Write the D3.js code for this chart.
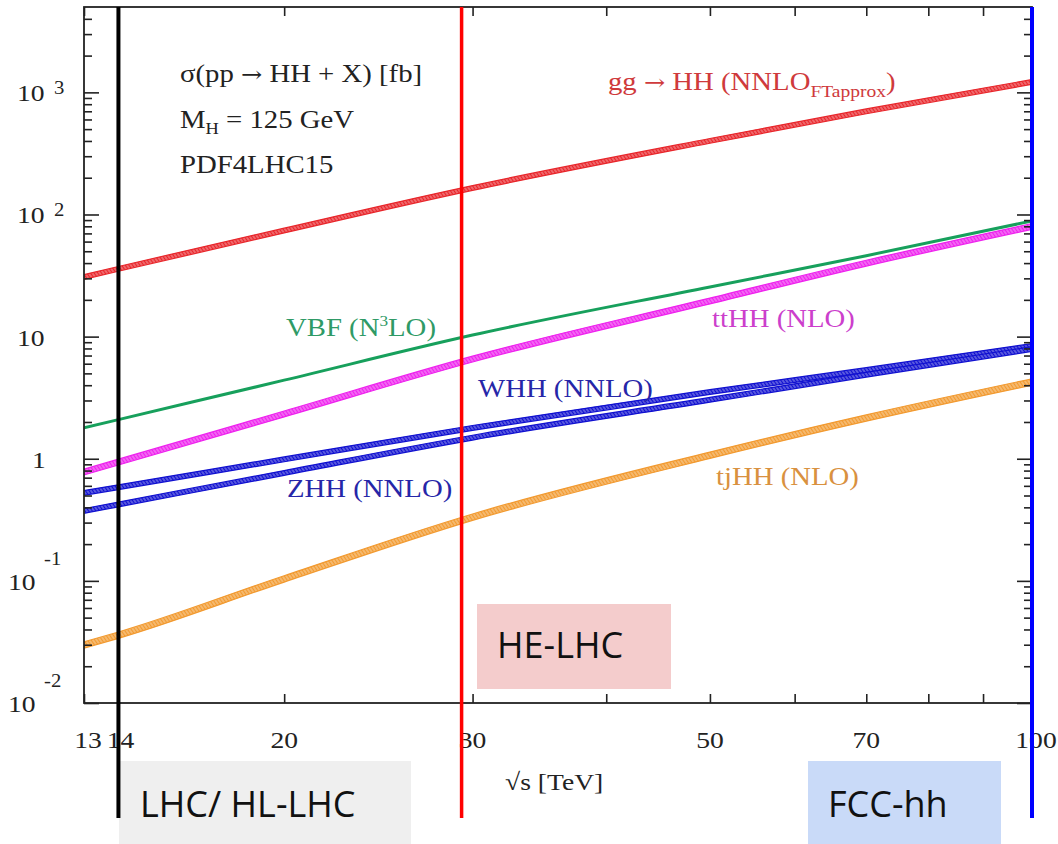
<!DOCTYPE html>
<html>
<head>
<meta charset="utf-8">
<script src="https://cdn.jsdelivr.net/npm/d3@7"></script>
<style>
  html, body { margin: 0; padding: 0; background: #fff; }
  svg { display: block; }
</style>
</head>
<body>
<svg id="chart" width="1058" height="844"></svg>
<script>
// Centre-of-mass energies (TeV) at which the cross sections are tabulated
const energies = [13, 14, 20, 30, 50, 70, 100];

// σ(pp → HH + X) in fb for each production mode
const xsGGF  = [30.8, 35.9, 74, 165, 401, 700, 1219];
const xsVBF  = [1.79, 2.09, 4.4, 10.3, 25.5, 46, 88.5];
const xsTTHH = [0.78, 0.94, 2.33, 6.56, 19.6, 40, 80];
const xsWHH  = [0.525, 0.585, 0.99, 1.79, 3.52, 5.33, 8.4];
const xsZHH  = [0.374, 0.423, 0.766, 1.49, 3.04, 4.88, 7.93];
const xsTJHH = [0.0299, 0.036, 0.104, 0.333, 1.07, 2.16, 4.26];

// Relative half-width of each theory-uncertainty band
const bandGGF = 0.045, bandVBF = 0.012, bandTTHH = 0.055,
      bandWHH = 0.045, bandZHH = 0.045, bandTJHH = 0.06;

// Axis ticks
const xTickValues = [13, 14, 20, 30, 50, 70, 100];
const xTickLabels = ["13", "14", "20", "30", "50", "70", "100"];
const xMinorValues = [40, 60, 80, 90];
const yTickValues = [0.01, 0.1, 1, 10, 100, 1000];
const yTickBase   = ["10", "10", "1", "10", "10", "10"];
const yTickExp    = ["-2", "-1", "", "", "2", "3"];

// Collider energies marked on the plot
const colliderNames  = ["LHC/ HL-LHC", "HE-LHC", "FCC-hh"];
const colliderEnergy = [14, 29.3, 100];

// ---------------------------------------------------------------
const svg = d3.select("#chart");
const L = 84, R = 1032, T = 7, B = 703;
const x = d3.scaleLog().domain([13, 100]).range([L, R]);
const y = d3.scaleLog().domain([0.01, 5000]).range([B, T]);
const SERIF = "'Liberation Serif', 'Times New Roman', serif";
const SANS = "'Open Sans', 'Noto Sans', sans-serif";
const SX = 1.15;   // horizontal stretch of the serif lettering

svg.append("rect").attr("width", 1058).attr("height", 844).attr("fill", "#fff");

const defs = svg.append("defs");
defs.append("clipPath").attr("id", "plotClip")
  .append("rect").attr("x", L).attr("y", T).attr("width", R - L).attr("height", B - T);

// series definitions (built from the named arrays above)
const series = [
  { id: "ggf",  vals: xsGGF,  band: bandGGF,  color: "#e8262b", hatch: true },
  { id: "vbf",  vals: xsVBF,  band: bandVBF,  color: "#17a05c", hatch: false },
  { id: "tthh", vals: xsTTHH, band: bandTTHH, color: "#ee22ee", hatch: true },
  { id: "whh",  vals: xsWHH,  band: bandWHH,  color: "#1010d0", hatch: true },
  { id: "zhh",  vals: xsZHH,  band: bandZHH,  color: "#1010d0", hatch: true },
  { id: "tjhh", vals: xsTJHH, band: bandTJHH, color: "#f29a30", hatch: true }
];

series.forEach(s => {
  const tint = d3.interpolateRgb(s.color, "#ffffff")(0.55);
  const p = defs.append("pattern")
    .attr("id", "hatch-" + s.id)
    .attr("patternUnits", "userSpaceOnUse")
    .attr("width", 3).attr("height", 3)
    .attr("patternTransform", "rotate(-35)");
  p.append("rect").attr("width", 3).attr("height", 3).attr("fill", tint);
  p.append("line").attr("x1", 1.5).attr("y1", 0).attr("x2", 1.5).attr("y2", 3)
    .attr("stroke", s.color).attr("stroke-width", 1.9);
});

// ---------------- curves ----------------
const gCurves = svg.append("g").attr("clip-path", "url(#plotClip)");
series.forEach(s => {
  const pts = energies.map((e, i) => ({ e: e, v: s.vals[i] }));
  const lo = d => y(d.v * (1 - s.band));
  const hi = d => y(d.v * (1 + s.band));
  if (s.hatch) {
    gCurves.append("path").datum(pts)
      .attr("d", d3.area().x(d => x(d.e)).y0(lo).y1(hi).curve(d3.curveMonotoneX))
      .attr("fill", "url(#hatch-" + s.id + ")");
    [lo, hi].forEach(f => {
      gCurves.append("path").datum(pts)
        .attr("d", d3.line().x(d => x(d.e)).y(f).curve(d3.curveMonotoneX))
        .attr("fill", "none").attr("stroke", s.color).attr("stroke-width", 1.2);
    });
  } else {
    gCurves.append("path").datum(pts)
      .attr("d", d3.line().x(d => x(d.e)).y(d => y(d.v)).curve(d3.curveMonotoneX))
      .attr("fill", "none").attr("stroke", s.color).attr("stroke-width", 3);
  }
});

// ---------------- frame and ticks ----------------
const gAx = svg.append("g");
const yMinor = [];
for (let k = -2; k <= 3; k++) {
  for (let m = 2; m <= 9; m++) {
    const v = m * Math.pow(10, k);
    if (v < 5000) yMinor.push(v);
  }
}

function styleAxis(g) {
  g.select(".domain").remove();
  g.selectAll(".tick line").attr("stroke", "#222").attr("stroke-width", 1.6);
}

// left and right: major + minor ticks pointing inward
gAx.append("g").attr("transform", `translate(${L},0)`)
  .call(d3.axisLeft(y).tickValues(yTickValues).tickSize(-15).tickFormat("")).call(styleAxis);
gAx.append("g").attr("transform", `translate(${L},0)`)
  .call(d3.axisLeft(y).tickValues(yMinor).tickSize(-8).tickFormat("")).call(styleAxis);
gAx.append("g").attr("transform", `translate(${R},0)`)
  .call(d3.axisRight(y).tickValues(yTickValues).tickSize(-15).tickFormat("")).call(styleAxis);
gAx.append("g").attr("transform", `translate(${R},0)`)
  .call(d3.axisRight(y).tickValues(yMinor).tickSize(-8).tickFormat("")).call(styleAxis);

// bottom and top ticks
const xAllTicks = xTickValues.concat(xMinorValues);
gAx.append("g").attr("transform", `translate(0,${B})`)
  .call(d3.axisBottom(x).tickValues(xAllTicks).tickSize(-9).tickFormat("")).call(styleAxis);
gAx.append("g").attr("transform", `translate(0,${T})`)
  .call(d3.axisTop(x).tickValues(xAllTicks).tickSize(-9).tickFormat("")).call(styleAxis);

gAx.append("rect").attr("x", L).attr("y", T).attr("width", R - L).attr("height", B - T)
  .attr("fill", "none").attr("stroke", "#222").attr("stroke-width", 1.8);

// serif text helper: parts = [{t, size, dy, dx, family}]
function serif(g, px, py, parts, color, anchor) {
  const t = g.append("text")
    .attr("transform", `translate(${px},${py}) scale(${SX},1)`)
    .attr("font-family", SERIF).attr("fill", color || "#222")
    .attr("text-anchor", anchor || "start");
  parts.forEach(p => {
    const ts = t.append("tspan").text(p.t).attr("font-size", p.size || 25);
    if (p.dy) ts.attr("dy", p.dy);
    if (p.dx) ts.attr("dx", p.dx);
    if (p.family) ts.attr("font-family", p.family);
  });
  return t;
}

// x tick labels
const gLab = svg.append("g");
xTickValues.forEach((v, i) => {
  const off = v === 13 ? 4 : (v === 14 ? 2 : (v === 100 ? 4 : 0));
  serif(gLab, x(v) + off, B + 45, [{ t: xTickLabels[i], size: 24 }], "#222", "middle");
});

// y tick labels
yTickValues.forEach((v, i) => {
  const py = y(v);
  const base = yTickBase[i], ex = yTickExp[i];
  if (ex === "") {
    const w = base.length === 1 ? 32 : 17;
    serif(gLab, w, py + 9, [{ t: base, size: 24 }]);
  } else if (ex.startsWith("-")) {
    serif(gLab, 8, py + 9, [{ t: base, size: 24 }]);
    serif(gLab, 44, py - 16, [{ t: ex, size: 18 }]);
  } else {
    serif(gLab, 17, py + 9, [{ t: base, size: 24 }]);
    serif(gLab, 54, py + 2, [{ t: ex, size: 18 }]);
  }
});

// axis title
serif(gLab, 505, 790, [{ t: "\u221As [TeV]", size: 24 }]);

const ARROW = "'DejaVu Serif', serif";
// header annotation
serif(gLab, 180, 82, [{ t: "\u03C3(pp " }, { t: "\u2192", family: ARROW, size: 22 }, { t: " HH + X) [fb]" }]);
serif(gLab, 180, 128, [{ t: "M" }, { t: "H", size: 16, dy: 6 }, { t: " = 125 GeV", dy: -6 }]);
serif(gLab, 180, 173, [{ t: "PDF4LHC15" }]);

// process labels
serif(gLab, 608, 90, [{ t: "gg " }, { t: "\u2192", family: ARROW, size: 22 }, { t: " HH (NNLO" },
  { t: "FTapprox", size: 17, dy: 7 }, { t: ")", dy: -7 }], "#cf3a3c");
serif(gLab, 286, 336, [{ t: "VBF (N" }, { t: "3", size: 15, dy: -10 }, { t: "LO)", dy: 10 }], "#2f9a66");
serif(gLab, 712, 327, [{ t: "ttHH (NLO)" }], "#cc3fcc");
serif(gLab, 478, 397, [{ t: "WHH (NNLO)" }], "#2626a8");
serif(gLab, 287, 497, [{ t: "ZHH (NNLO)" }], "#2626a8");
serif(gLab, 716, 485, [{ t: "tjHH (NLO)" }], "#d9913f");

// ---------------- collider boxes and markers ----------------
const boxFill = ["#efefef", "#f4cccc", "#c9daf8"];
const boxGeom = [
  { x: 119, y: 761, w: 292, h: 90, tx: 140, ty: 817 },
  { x: 477, y: 604, w: 194, h: 85, tx: 497, ty: 658 },
  { x: 808, y: 761, w: 193, h: 90, tx: 828, ty: 817 }
];
const lineColor = ["#000000", "#ff0000", "#0000ff"];

const gCol = svg.append("g");
colliderNames.forEach((name, i) => {
  const b = boxGeom[i];
  gCol.append("rect").attr("x", b.x).attr("y", b.y).attr("width", b.w).attr("height", b.h)
    .attr("fill", boxFill[i]);
  gCol.append("text").attr("x", b.tx).attr("y", b.ty)
    .attr("font-family", SANS).attr("font-size", 36).attr("fill", "#111")
    .text(name);
});
colliderEnergy.forEach((e, i) => {
  gCol.append("line")
    .attr("x1", x(e)).attr("x2", x(e)).attr("y1", 7).attr("y2", 818)
    .attr("stroke", lineColor[i]).attr("stroke-width", i === 1 ? 3.5 : 4);
});
</script>
</body>
</html>
